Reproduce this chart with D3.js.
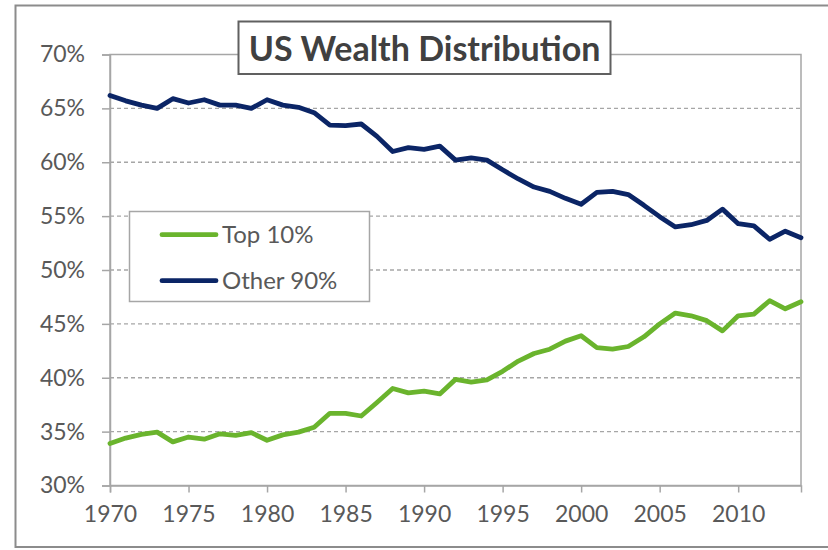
<!DOCTYPE html>
<html><head><meta charset="utf-8">
<script src="https://cdn.jsdelivr.net/npm/d3@7"></script>
<style>html,body{margin:0;padding:0;background:#fff;}svg{display:block;font-family:Lato,"Open Sans",sans-serif;}</style>
</head><body>
<script>
const years = d3.range(1970, 2015);
const top10 = [33.9,34.4,34.75,34.95,34.05,34.5,34.3,34.8,34.65,34.9,34.2,34.7,34.95,35.4,36.7,36.7,36.45,37.7,39.0,38.6,38.75,38.5,39.85,39.6,39.8,40.6,41.55,42.25,42.65,43.4,43.9,42.8,42.65,42.9,43.8,45.0,46.0,45.75,45.3,44.35,45.75,45.9,47.15,46.4,47.05];
const other90 = [66.2,65.7,65.3,65.0,65.9,65.5,65.8,65.3,65.3,65.0,65.8,65.3,65.1,64.6,63.45,63.4,63.55,62.4,61.0,61.35,61.2,61.5,60.2,60.4,60.2,59.3,58.45,57.7,57.3,56.65,56.1,57.2,57.3,57.0,56.0,54.95,54.0,54.2,54.6,55.65,54.3,54.1,52.85,53.6,53.0];
const yTicks = [30,35,40,45,50,55,60,65,70];
const xTicks = [1970,1975,1980,1985,1990,1995,2000,2005,2010];
const seriesNames = ["Top 10%","Other 90%"];
const seriesColors = ["#6ab42d","#0b2566"];

const W = 828, H = 550;
const svg = d3.select("body").append("svg").attr("width", W).attr("height", H);

// outer border
svg.append("rect").attr("x",15.5).attr("y",5.5).attr("width",830).attr("height",541.5)
  .attr("fill","#fff").attr("stroke","#8c8c8c").attr("stroke-width",2);

const L = 110, R = 801, T = 54.5, B = 485.5;
const x = d3.scaleLinear().domain([1970, 2014]).range([L, R]);
const y = d3.scaleLinear().domain([30, 70]).range([B, T]);

// gridlines
svg.append("g").selectAll("line").data(yTicks.filter(v => v > 30 && v < 70)).join("line")
  .attr("x1", L).attr("x2", R).attr("y1", d => y(d)).attr("y2", d => y(d))
  .attr("stroke","#a6a6a6").attr("stroke-width",1.3).attr("stroke-dasharray","4,3");

// plot frame
svg.append("rect").attr("x",L).attr("y",T).attr("width",R-L).attr("height",B-T)
  .attr("fill","none").attr("stroke","#a6a6a6").attr("stroke-width",1.5);

// y axis
const yAxis = svg.append("g").attr("transform",`translate(${L},0)`)
  .call(d3.axisLeft(y).tickValues(yTicks).tickSize(8).tickPadding(17).tickFormat(d => d + "%"));
yAxis.select(".domain").attr("stroke","#a6a6a6").attr("stroke-width",1.5);
yAxis.selectAll(".tick line").attr("stroke","#a6a6a6").attr("stroke-width",1.5);
yAxis.selectAll("text").attr("fill","#595959").style("font-size","23px").style("font-family","Lato");

// x axis
const xAxis = svg.append("g").attr("transform",`translate(0,${B})`)
  .call(d3.axisBottom(x).tickValues(xTicks).tickSize(7).tickPadding(13).tickFormat(d3.format("d")));
xAxis.select(".domain").attr("stroke","#a6a6a6").attr("stroke-width",1.5);
xAxis.selectAll(".tick line").attr("stroke","#a6a6a6").attr("stroke-width",1.5);
xAxis.selectAll("text").attr("fill","#595959").style("font-size","23px").style("font-family","Lato");

// lines
const line = d3.line().x((d,i) => x(years[i])).y(d => y(d));
[top10, other90].forEach((s, k) => {
  svg.append("path").datum(s).attr("d", line).attr("fill","none")
    .attr("stroke", seriesColors[k]).attr("stroke-width",4.8)
    .attr("stroke-linejoin","round").attr("stroke-linecap","round");
});

// title
svg.append("rect").attr("x",238.5).attr("y",21.5).attr("width",372).attr("height",52.5)
  .attr("fill","#fff").attr("stroke","#606060").attr("stroke-width",2);
svg.append("text").attr("x",424.5).attr("y",60.5).attr("text-anchor","middle")
  .attr("fill","#404040").style("font-size","34px").style("font-weight","bold").style("font-family","Lato")
  .text("US Wealth Distribution");

// legend
const lg = svg.append("g");
lg.append("rect").attr("x",129.5).attr("y",211.5).attr("width",240).attr("height",90)
  .attr("fill","#fff").attr("stroke","#a6a6a6").attr("stroke-width",1.5);
seriesNames.forEach((n, k) => {
  const ly = 234.7 + k * 46;
  lg.append("line").attr("x1",162).attr("x2",216).attr("y1",ly).attr("y2",ly)
    .attr("stroke", seriesColors[k]).attr("stroke-width",4.8).attr("stroke-linecap","round");
  lg.append("text").attr("x",222).attr("y",ly + 8.5).attr("fill","#595959")
    .style("font-size","24px").style("font-family","Lato").text(n);
});
</script>
</body></html>
